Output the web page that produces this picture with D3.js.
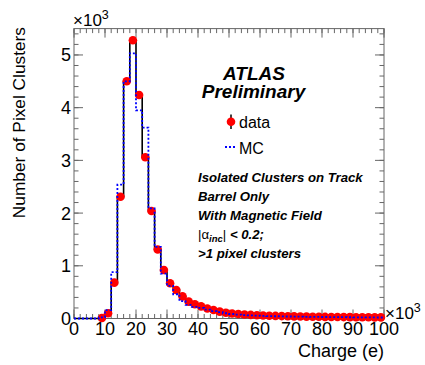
<!DOCTYPE html>
<html><head><meta charset="utf-8">
<script src="https://cdn.jsdelivr.net/npm/d3@7"></script>
<style>body{margin:0;background:#fff}svg{display:block}text{font-family:"Liberation Sans",Arial,Helvetica,sans-serif}</style>
</head><body><div id="c"></div>
<script>
// Charge bin centers (x10^3 e), bin width 2
const binCenters = [1,3,5,7,9,11,13,15,17,19,21,23,25,27,29,31,33,35,37,39,41,43,45,47,49,51,53,55,57,59,61,63,65,67,69,71,73,75,77,79,81,83,85,87,89,91,93,95,97,99];
// Number of pixel clusters (x10^3)
const dataValues = [0,0,0,0,0.01,0.10,0.68,2.31,4.50,5.28,4.24,3.06,2.04,1.31,0.92,0.67,0.54,0.42,0.32,0.27,0.23,0.19,0.16,0.13,0.11,0.095,0.085,0.075,0.068,0.062,0.057,0.053,0.049,0.046,0.043,0.040,0.038,0.036,0.034,0.032,0.030,0.029,0.028,0.027,0.026,0.025,0.024,0.023,0.022,0.021];
const mcValues   = [0,0,0,0,0.02,0.16,0.88,2.54,4.50,5.03,3.95,3.62,2.09,1.36,0.85,0.62,0.46,0.33,0.26,0.22,0.20,0.17,0.14,0.12,0.10,0.085,0.075,0.065,0.060,0.055,0.050,0.046,0.043,0.040,0.038,0.036,0.034,0.032,0.030,0.029,0.028,0.027,0.026,0.025,0.024,0.023,0.022,0.021,0.020,0.019];
const xTickValues = [0,10,20,30,40,50,60,70,80,90,100];
const yTickValues = [0,1,2,3,4,5];
const infoLines = ["Isolated Clusters on Track","Barrel Only","With Magnetic Field"];
const binWidth = 2;

const W = 425, H = 365;
const L = 74, R = 384, T = 28.6, B = 318.5;
const svg = d3.select("#c").append("svg").attr("width", W).attr("height", H);
const x = d3.scaleLinear().domain([0,100]).range([L,R]);
const y = d3.scaleLinear().domain([0,5.5]).range([B,T]);
const FRAME = "#666";

// Frame
svg.append("rect").attr("x",L).attr("y",T).attr("width",R-L).attr("height",B-T)
  .attr("fill","none").attr("stroke",FRAME).attr("stroke-width",1);

const xMinor = d3.range(0,101,2), yMinor = d3.range(0,5.51,0.2);
function ticks(vals, len, orient){
  const g = svg.append("g").attr("stroke",FRAME).attr("stroke-width",1);
  vals.forEach(v=>{
    if(orient==="b") g.append("line").attr("x1",x(v)).attr("x2",x(v)).attr("y1",B).attr("y2",B-len);
    if(orient==="t") g.append("line").attr("x1",x(v)).attr("x2",x(v)).attr("y1",T).attr("y2",T+len);
    if(orient==="l") g.append("line").attr("y1",y(v)).attr("y2",y(v)).attr("x1",L).attr("x2",L+len);
    if(orient==="r") g.append("line").attr("y1",y(v)).attr("y2",y(v)).attr("x1",R).attr("x2",R-len);
  });
}
ticks(xMinor,4.5,"b"); ticks(xTickValues,9,"b");
ticks(xMinor,4.5,"t"); ticks(xTickValues,9,"t");
ticks(yMinor,4.5,"l"); ticks(yTickValues,9,"l");
ticks(yMinor,4.5,"r"); ticks(yTickValues,9,"r");

// tick labels
svg.append("g").selectAll("text").data(xTickValues).join("text")
  .attr("x",d=>x(d)).attr("y",335).attr("text-anchor","middle").attr("font-size",18).text(d=>d);
svg.append("g").selectAll("text").data(yTickValues).join("text")
  .attr("x",71).attr("y",d=>y(d)+6.5).attr("text-anchor","end").attr("font-size",18).text(d=>d);

// exponent labels
function expo(xp, yb){
  const t = svg.append("text").attr("x",xp).attr("y",yb).attr("font-size",17);
  t.append("tspan").text("\u00d710");
  t.append("tspan").attr("dy",-7).attr("font-size",12.5).text("3");
}
expo(73,25.5); expo(385,318.5);

// axis titles
svg.append("text").attr("x",384).attr("y",357).attr("text-anchor","end").attr("font-size",18).text("Charge (e)");
svg.append("text").attr("transform","translate(25,27) rotate(-90)").attr("text-anchor","end").attr("font-size",17.3).text("Number of Pixel Clusters");

// histogram steps
function stepPts(vals){
  const pts=[];
  binCenters.forEach((c,i)=>{pts.push([c-binWidth/2, vals[i]]); pts.push([c+binWidth/2, vals[i]]);});
  return pts;
}
const line = d3.line().x(d=>x(d[0])).y(d=>y(d[1]));
svg.append("path").attr("d",line(stepPts(dataValues))).attr("fill","none").attr("stroke","#000").attr("stroke-width",1.6);
// data markers
svg.append("g").selectAll("circle").data(binCenters.map((c,i)=>[c,dataValues[i]]).filter(d=>d[1]>0)).join("circle")
  .attr("cx",d=>x(d[0])).attr("cy",d=>y(d[1])).attr("r",4.3).attr("fill","#f00");
// MC
svg.append("path").attr("d",line(stepPts(mcValues))).attr("fill","none").attr("stroke","#00f").attr("stroke-width",1.8).attr("stroke-dasharray","2,2");

// ATLAS label
svg.append("text").attr("x",254).attr("y",80).attr("text-anchor","middle").attr("font-size",19).attr("font-weight","bold").attr("font-style","italic").text("ATLAS");
svg.append("text").attr("x",253.5).attr("y",98.3).attr("text-anchor","middle").attr("font-size",19).attr("font-weight","bold").attr("font-style","italic").text("Preliminary");

// legend
svg.append("line").attr("x1",231).attr("x2",231).attr("y1",114.5).attr("y2",129).attr("stroke","#000").attr("stroke-width",1.5);
svg.append("circle").attr("cx",231).attr("cy",121.7).attr("r",4.3).attr("fill","#f00");
svg.append("text").attr("x",239).attr("y",128).attr("font-size",16).text("data");
svg.append("line").attr("x1",225).attr("x2",237).attr("y1",147).attr("y2",147).attr("stroke","#00f").attr("stroke-width",1.8).attr("stroke-dasharray","2,2");
svg.append("text").attr("x",239).attr("y",154).attr("font-size",16).text("MC");

// info text
const infoY = [182.3, 200.7, 220];
infoLines.forEach((s,i)=>{
  svg.append("text").attr("x",198).attr("y",infoY[i]).attr("font-size",13.2).attr("font-weight","bold").attr("font-style","italic").text(s);
});
const a = svg.append("text").attr("x",198).attr("y",239).attr("font-size",13.2);
a.append("tspan").text("|\u03b1");
a.append("tspan").attr("dy",3).attr("font-size",9.5).attr("font-weight","bold").attr("font-style","italic").text("inc");
a.append("tspan").attr("dy",-3).text("|");
a.append("tspan").attr("font-weight","bold").attr("font-style","italic").text(" < 0.2;");
svg.append("text").attr("x",198).attr("y",258.3).attr("font-size",13.2).attr("font-weight","bold").attr("font-style","italic").text(">1 pixel clusters");
</script></body></html>
